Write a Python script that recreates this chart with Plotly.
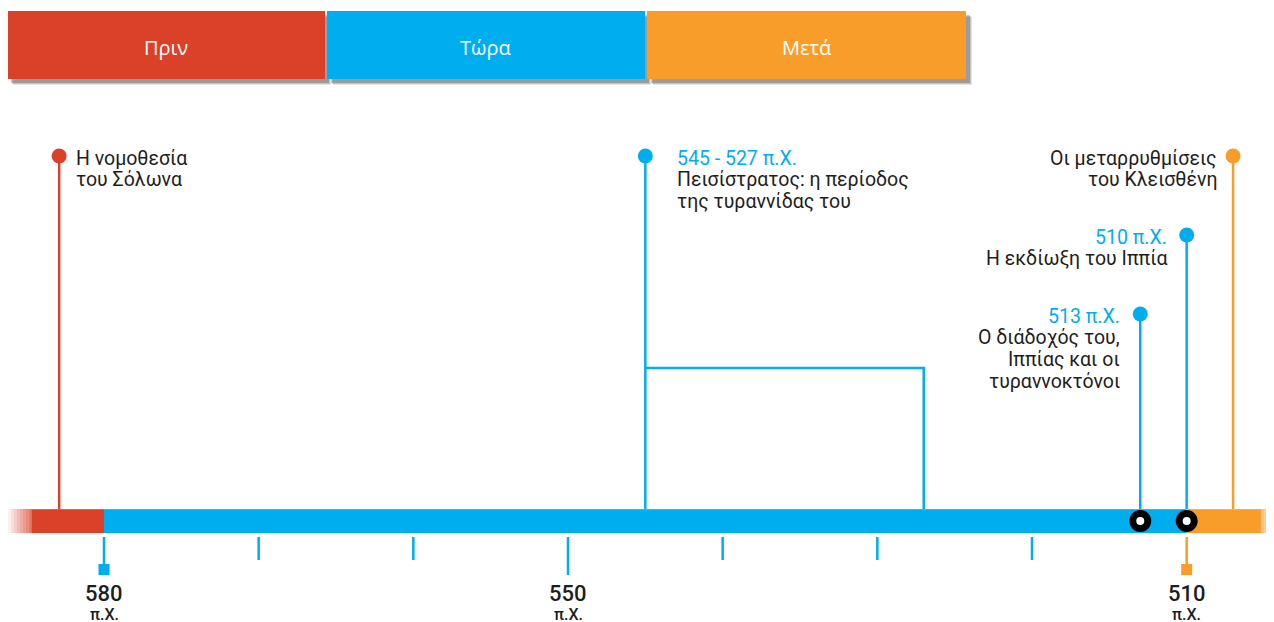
import plotly.graph_objects as go

# ---------------- data ----------------
period_names = ["Πριν", "Τώρα", "Μετά"]
period_colors = ["#DB4128", "#00AEEF", "#F99D2A"]

# timeline bar segments (years BC)
seg_start = [584.7, 580, 510]
seg_end = [580, 510, 505.2]

tick_years = [580, 570, 560, 550, 540, 530, 520, 510]
tick_labels = ["580", "", "", "550", "", "", "", "510"]
tick_suffix = "π.Χ."

event_years = [582.9, 545, 513, 510, 507]
event_end = [None, 527, None, None, None]
event_dates = ["", "545 - 527 π.Χ.", "513 π.Χ.", "510 π.Χ.", ""]
event_lines = [
    ["Η νομοθεσία", "του Σόλωνα"],
    ["Πεισίστρατος: η περίοδος", "της τυραννίδας του"],
    ["Ο διάδοχός του,", "Ιππίας και οι", "τυραννοκτόνοι"],
    ["Η εκδίωξη του Ιππία"],
    ["Οι μεταρρυθμίσεις", "του Κλεισθένη"],
]
event_period = [0, 1, 1, 1, 2]
ring_years = [513, 510]

# ---------------- styles / layout ----------------
W, H = 1274, 622
OFF = 8                      # page body margin
FW, FH = W - OFF, H          # figure size
PX_PER_YEAR = 464 / 30.0


def px_to_year(p):
    return 580 - (p - 104) / PX_PER_YEAR


def px_to_paper(p):
    return (p - OFF) / FW


BAR_TOP, BAR_BOT = 509, 533
event_top = [156, 156, 314, 235, 156]
event_side = ["left", "left", "right", "right", "right"]
event_shift = [16, 31, -19, -19, -15]
LINE_H = 21.7
bracket_y = 368
TEXT_DARK = "#1e1e1e"
FONT = "Roboto"

fig = go.Figure()
shapes = []
annotations = []

# top period boxes (paper space)
box_px = [(7, 325), (327, 645), (647, 966)]
for (a, b) in box_px:
    for off, c in [(6, "rgba(0,0,0,0.10)"), (5, "rgba(0,0,0,0.15)"), (4, "rgba(0,0,0,0.2)")]:
        shapes.append(dict(type="rect", xref="paper", yref="y", x0=px_to_paper(a + off), x1=px_to_paper(b + off),
                           y0=11 + off, y1=79 + off, fillcolor=c, line=dict(width=0), layer="below"))
for (a, b), name, col in zip(box_px, period_names, period_colors):
    shapes.append(dict(type="rect", xref="paper", yref="y", x0=px_to_paper(a), x1=px_to_paper(b), y0=11, y1=79,
                       fillcolor=col, line=dict(width=0), layer="below"))
    annotations.append(dict(xref="paper", yref="y", x=px_to_paper((a + b) / 2), y=47, text=name, showarrow=False,
                            font=dict(family="Open Sans", size=20, color="white"), xanchor="center",
                            yanchor="middle"))

# timeline bar segments
for s, e, col in zip(seg_start, seg_end, period_colors):
    shapes.append(dict(type="rect", xref="x", yref="y", x0=s, x1=e, y0=BAR_TOP, y1=BAR_BOT,
                       fillcolor=col, line=dict(width=0), layer="below"))
# faded ends
n = 8
left_w = 1.5
right_w = 0.9
for i in range(n):
    op = (i + 1) / (n + 1)
    shapes.append(dict(type="rect", xref="x", yref="y",
                       x0=seg_start[0] + left_w * (n - i) / n, x1=seg_start[0] + left_w * (n - i - 1) / n,
                       y0=BAR_TOP, y1=BAR_BOT, fillcolor=period_colors[0], opacity=op * 0.8,
                       line=dict(width=0), layer="below"))
    shapes.append(dict(type="rect", xref="x", yref="y",
                       x0=seg_end[2] - right_w * i / n, x1=seg_end[2] - right_w * (i + 1) / n,
                       y0=BAR_TOP, y1=BAR_BOT, fillcolor=period_colors[2], opacity=(1 - op) * 0.8,
                       line=dict(width=0), layer="below"))
shapes.append(dict(type="line", xref="x", yref="y", x0=seg_start[0], x1=seg_end[2], y0=BAR_TOP, y1=BAR_TOP,
                   line=dict(color="rgba(255,255,255,0.35)", width=1), layer="below"))

# ticks below the bar
for yr, lab in zip(tick_years, tick_labels):
    col = period_colors[2] if yr == 510 else period_colors[1]
    end = 575 if lab else 560
    if yr in (580, 510):
        end = 566
    shapes.append(dict(type="line", xref="x", yref="y", x0=yr, x1=yr, y0=537, y1=end,
                       line=dict(color=col, width=2.5)))
    if yr in (580, 510):
        shapes.append(dict(type="rect", xref="x", yref="y", x0=yr + 5.5 / PX_PER_YEAR, x1=yr - 5.5 / PX_PER_YEAR,
                           y0=564, y1=575, fillcolor=col, line=dict(width=0)))
    if lab:
        annotations.append(dict(xref="x", yref="y", x=yr, y=593, text=lab, showarrow=False,
                                font=dict(family=FONT, size=22, color=TEXT_DARK, weight=500),
                                xanchor="center", yanchor="middle"))
        annotations.append(dict(xref="x", yref="y", x=yr, y=614, text=tick_suffix, showarrow=False,
                                font=dict(family=FONT, size=16, color=TEXT_DARK, weight=500),
                                xanchor="center", yanchor="middle"))

# event stems
for yr, top, pi in zip(event_years, event_top, event_period):
    col = period_colors[pi]
    fig.add_trace(go.Scatter(x=[yr, yr], y=[top, BAR_TOP], mode="lines",
                             line=dict(color=col, width=2.5), hoverinfo="skip", showlegend=False))
    fig.add_trace(go.Scatter(x=[yr], y=[top], mode="markers",
                             marker=dict(color=col, size=15, line=dict(width=0)),
                             hoverinfo="skip", showlegend=False))

# bracket for period 545-527
for yr, ye, pi in zip(event_years, event_end, event_period):
    if ye is None:
        continue
    col = period_colors[pi]
    fig.add_trace(go.Scatter(x=[yr, ye, ye], y=[bracket_y, bracket_y, BAR_TOP], mode="lines",
                             line=dict(color=col, width=2.5), hoverinfo="skip", showlegend=False))

# rings on the bar
fig.add_trace(go.Scatter(x=ring_years, y=[(BAR_TOP + BAR_BOT) / 2] * len(ring_years), mode="markers",
                         marker=dict(color="white", size=15, line=dict(color="black", width=7)),
                         hoverinfo="skip", showlegend=False))

# event texts (one annotation per line)
for yr, top, side, sh, d, lines in zip(event_years, event_top, event_side, event_shift, event_dates, event_lines):
    rows = ([(d, period_colors[1])] if d else []) + [(t, TEXT_DARK) for t in lines]
    for i, (t, c) in enumerate(rows):
        annotations.append(dict(xref="x", yref="y", x=yr, y=top + 2 + i * LINE_H, text=t, showarrow=False,
                                xanchor=side, yanchor="middle", align=side, xshift=sh, borderpad=0,
                                font=dict(family=FONT, size=19.5, color=c)))

fig.update_layout(
    width=FW, height=FH, margin=dict(l=0, r=0, t=0, b=0),
    paper_bgcolor="white", plot_bgcolor="white",
    xaxis=dict(range=[px_to_year(OFF), px_to_year(W)], visible=False, fixedrange=True),
    yaxis=dict(range=[OFF + FH, OFF], visible=False, fixedrange=True),
    shapes=shapes, annotations=annotations, showlegend=False,
)

fig.write_html("out.html")
